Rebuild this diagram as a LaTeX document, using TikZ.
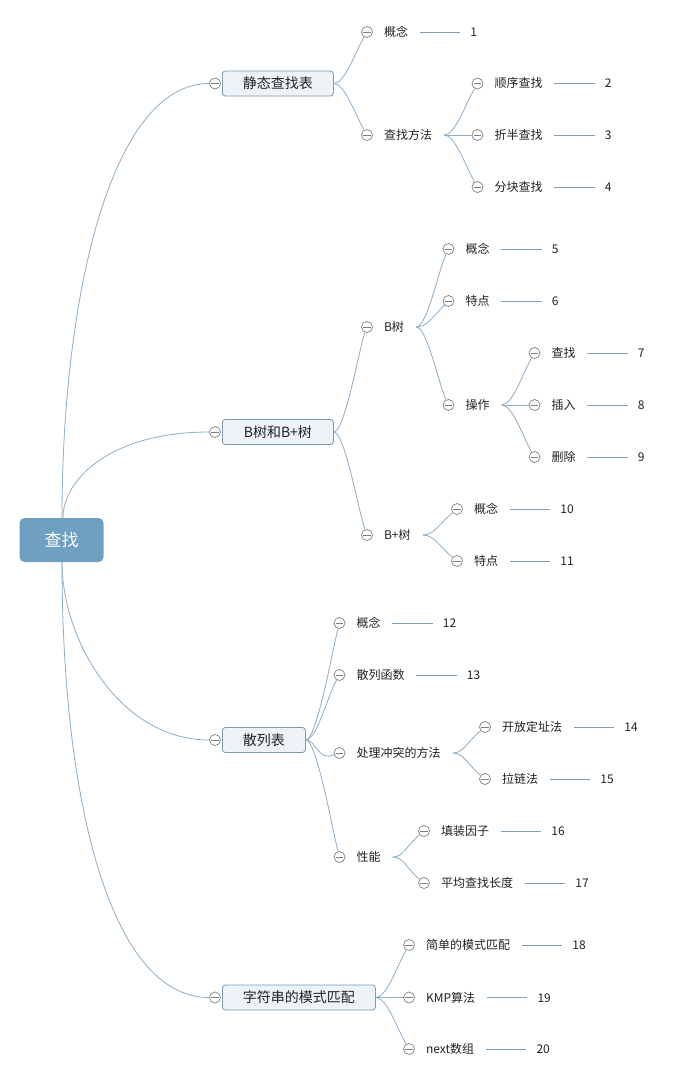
\documentclass[tikz,border=0pt]{standalone}
\usepackage{fontspec}
\setmainfont{Noto Sans CJK SC}
\usetikzlibrary{calc}
\definecolor{conn}{HTML}{8DAEC7}
\definecolor{leafc}{HTML}{7C9FBC}
\definecolor{circ}{HTML}{7F7F7F}
\definecolor{boxline}{HTML}{7C9BB4}
\definecolor{boxfill}{HTML}{EEF3F7}
\definecolor{rootfill}{HTML}{70A0C1}
\definecolor{txt}{HTML}{222222}
\tikzset{
  conn/.style={draw=conn, line width=0.8pt},
  leafline/.style={draw=leafc, line width=0.8pt},
  br/.style={out=0, in=#1, out distance=11pt, in distance=18pt},
  minus/.style={circle, draw=circ, line width=0.7pt, minimum size=11pt, inner sep=0pt, fill=white,
    path picture={\draw[circ, line width=0.7pt] ([xshift=1.8pt]path picture bounding box.west) -- ([xshift=-1.8pt]path picture bounding box.east);}},
  lbl/.style={anchor=west, inner sep=0pt, font=\fontsize{12}{14}\selectfont, text=txt, text height=10.5pt, text depth=1.5pt},
  topic/.style={draw=boxline, fill=boxfill, rounded corners=3pt, line width=0.8pt, minimum height=25pt, inner sep=0pt, anchor=west,
    font=\fontsize{14}{16}\selectfont, text=txt, text height=12.3pt, text depth=1.7pt},
  rootbox/.style={fill=rootfill, rounded corners=5pt, minimum width=84pt, minimum height=44pt, inner sep=0pt, text=white,
    font=\fontsize{17}{20}\selectfont, text height=14.9pt, text depth=2pt}
}
\newcommand\tpc[4]{%
  \node[topic, minimum width=#3pt] (#1) at (222,-#2) {#4};
  \node[minus] (#1-c) at ([xshift=-7pt]#1.west) {};}
\newcommand\branch[4]{%
  \node[minus] (#1-c) at (#2,-#3) {};
  \node[lbl] (#1-t) at ([xshift=11pt]#1-c.east) {#4};
  \coordinate (#1-j) at ([xshift=12pt]#1-t.east);}
\newcommand\leaf[5]{%
  \branch{#1}{#2}{#3}{#4}
  \node[lbl] (#1-n) at ([xshift=62pt]#1-t.east) {#5};
  \draw[leafline] ([xshift=11.5pt]#1-t.east) -- ([xshift=-10pt]#1-n.west);}
\begin{document}
\begin{tikzpicture}[x=1pt,y=1pt]
\fill[white] (0,0) rectangle (674,-1081);
\useasboundingbox (0,0) rectangle (674,-1081);

% root
\node[rootbox] (root) at (61.5,-540) {查找};

% main topics
\tpc{s1}{83.5}{111}{静态查找表}
\tpc{s2}{432}{111}{B树和B+树}
\tpc{s3}{740}{83}{散列表}
\tpc{s4}{997.5}{153}{字符串的模式匹配}

\draw[conn] ([xshift=0.5pt]root.north) .. controls +(0,218) and +(-105,0) .. (s1-c);
\draw[conn] ([xshift=1.5pt]root.north) .. controls +(0,38) and +(-105,0) .. (s2-c);
\draw[conn] ([xshift=0.5pt]root.south) .. controls +(0,-78) and +(-95,0) .. (s3-c);
\draw[conn] ([xshift=0.5pt]root.south) .. controls +(0,-238) and +(-105,0) .. (s4-c);

% static search table
\leaf{a1}{367}{32}{概念}{1}
\branch{a2}{367}{135}{查找方法}
\leaf{a21}{477.5}{83.5}{顺序查找}{2}
\leaf{a22}{477.5}{135}{折半查找}{3}
\leaf{a23}{477.5}{187}{分块查找}{4}
\draw[conn] (s1.east) to[br=240] (a1-c);
\draw[conn] (s1.east) to[br=120] (a2-c);
\draw[conn] (a2-j) to[br=240] (a21-c);
\draw[conn] (a2-j) -- (a22-c);
\draw[conn] (a2-j) to[br=120] (a23-c);

% B tree
\branch{b1}{367}{327}{B树}
\leaf{b11}{448.5}{249}{概念}{5}
\leaf{b12}{448.5}{301}{特点}{6}
\branch{b13}{448.5}{405}{操作}
\leaf{b131}{534.5}{353}{查找}{7}
\leaf{b132}{534.5}{405}{插入}{8}
\leaf{b133}{534.5}{457}{删除}{9}
\branch{b2}{367}{535}{B+树}
\leaf{b21}{457}{509}{概念}{10}
\leaf{b22}{457}{561}{特点}{11}
\draw[conn] (s2.east) to[br=250] (b1-c);
\draw[conn] (s2.east) to[br=110] (b2-c);
\draw[conn] (b1-j) to[br=245] (b11-c);
\draw[conn] (b1-j) to[br=225] (b12-c);
\draw[conn] (b1-j) to[br=115] (b13-c);
\draw[conn] (b13-j) to[br=240] (b131-c);
\draw[conn] (b13-j) -- (b132-c);
\draw[conn] (b13-j) to[br=120] (b133-c);
\draw[conn] (b2-j) to[br=220] (b21-c);
\draw[conn] (b2-j) to[br=140] (b22-c);

% hash table
\leaf{c1}{339.5}{623}{概念}{12}
\leaf{c2}{339.5}{675}{散列函数}{13}
\branch{c3}{339.5}{753}{处理冲突的方法}
\leaf{c31}{485}{727}{开放定址法}{14}
\leaf{c32}{485}{779}{拉链法}{15}
\branch{c4}{339.5}{857}{性能}
\leaf{c41}{424}{831}{填装因子}{16}
\leaf{c42}{424}{883}{平均查找长度}{17}
\draw[conn] (s3.east) to[br=255] (c1-c);
\draw[conn] (s3.east) to[br=240] (c2-c);
\draw[conn] (s3.east) to[br=200] (c3-c);
\draw[conn] (s3.east) to[br=105] (c4-c);
\draw[conn] (c3-j) to[br=220] (c31-c);
\draw[conn] (c3-j) to[br=140] (c32-c);
\draw[conn] (c4-j) to[br=220] (c41-c);
\draw[conn] (c4-j) to[br=140] (c42-c);

% pattern matching
\leaf{d1}{409}{945}{简单的模式匹配}{18}
\leaf{d2}{409}{997.5}{KMP算法}{19}
\leaf{d3}{409}{1049}{next数组}{20}
\draw[conn] (s4.east) to[br=240] (d1-c);
\draw[conn] (s4.east) -- (d2-c);
\draw[conn] (s4.east) to[br=120] (d3-c);
\end{tikzpicture}
\end{document}
